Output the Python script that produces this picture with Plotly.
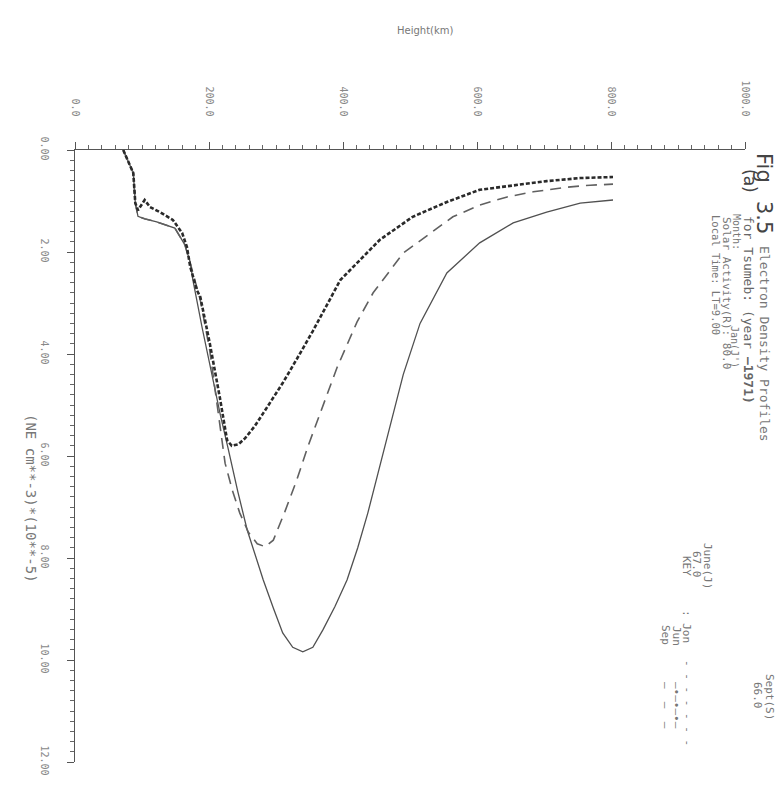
import plotly.graph_objects as go

# ---------------- data ----------------
jun_height = [72, 87, 90, 94, 104, 112, 127, 146, 160, 167, 172, 182, 187, 201, 216, 227, 234,
              244, 254, 268, 281, 310, 331, 355, 396, 455, 504, 555, 604, 654, 704, 754, 803]
jun_density = [0.0, 0.45, 1.04, 1.18, 0.98, 1.12, 1.22, 1.37, 1.63, 1.90, 2.29, 2.75, 2.88, 3.78, 4.84, 5.69, 5.80,
               5.77, 5.65, 5.42, 5.16, 4.57, 4.10, 3.55, 2.55, 1.76, 1.31, 1.02, 0.78, 0.69, 0.61, 0.55, 0.53]

sep_height = [72, 87, 90, 94, 104, 122, 149, 164, 172, 187, 201, 213, 224, 235, 246, 259, 272, 284,
              296, 313, 331, 348, 366, 391, 421, 445, 490, 530, 564, 604, 645, 684, 734, 769, 803]
sep_density = [0.0, 0.45, 1.04, 1.30, 1.35, 1.41, 1.53, 1.86, 2.22, 2.94, 3.92, 5.10, 6.14, 6.68, 7.12, 7.50, 7.72, 7.78,
               7.65, 7.10, 6.47, 5.80, 5.16, 4.27, 3.37, 2.80, 2.02, 1.63, 1.31, 1.08, 0.92, 0.82, 0.73, 0.69, 0.67]

jan_height = [72, 87, 90, 94, 104, 122, 149, 164, 172, 176, 190, 206, 217, 228, 243, 257, 270, 281, 296,
              310, 325, 340, 355, 370, 388, 406, 422, 437, 452, 467, 490, 515, 555, 604, 654, 704, 754, 803]
jan_density = [0.0, 0.45, 1.04, 1.30, 1.35, 1.41, 1.53, 1.86, 2.20, 2.55, 3.50, 4.51, 5.20, 5.82, 6.70, 7.45, 8.00, 8.43, 8.98,
               9.47, 9.75, 9.84, 9.75, 9.41, 8.95, 8.43, 7.80, 7.12, 6.35, 5.60, 4.40, 3.40, 2.41, 1.82, 1.43, 1.22, 1.04, 0.98]

height_ticks = [0, 200, 400, 600, 800, 1000]
height_labels = ["0.0", "200.0", "400.0", "600.0", "800.0", "1000.0"]
density_ticks = [0, 2, 4, 6, 8, 10, 12]
density_labels = ["0.00", "2.00", "4.00", "6.00", "8.00", "10.00", "12.00"]

# ---------------- figure ----------------
# the page body has an 8px margin, so the figure is 8px smaller than the window
OFF = 8
W, H = 784 - OFF, 803 - OFF
PL, PR, PT, PB = 75, 745, 150, 762          # plot area in window pixels
L, T = PL - OFF, PT - OFF
R, B = W - (PR - OFF), H - (PB - OFF)

def pxx(x):
    return (x - PL) / (PR - PL)

def pyy(y):
    return (PB - y) / (PB - PT)

fig = go.Figure()
fig.add_trace(go.Scatter(x=jan_height, y=jan_density, mode="lines", name="Jan",
                         line=dict(color="#505050", width=1.3)))
fig.add_trace(go.Scatter(x=sep_height, y=sep_density, mode="lines", name="Sep",
                         line=dict(color="#606060", width=1.6, dash="11px,7px")))
fig.add_trace(go.Scatter(x=jun_height, y=jun_density, mode="lines", name="Jun",
                         line=dict(color="#2a2a2a", width=2.6, dash="4px,2px")))

fig.update_layout(
    width=W, height=H,
    margin=dict(l=L, r=R, t=T, b=B, autoexpand=False),
    paper_bgcolor="white", plot_bgcolor="white",
    showlegend=False,
    font=dict(family="DejaVu Sans Mono", color="#777777"),
)
fig.update_xaxes(
    side="top", range=[0, 1000], tickvals=height_ticks, ticktext=height_labels,
    tickangle=90, showgrid=False, zeroline=False,
    showline=True, linecolor="#555555", linewidth=1,
    ticks="outside", ticklen=7, tickcolor="#555555",
    minor=dict(dtick=20, ticks="outside", ticklen=4, tickcolor="#666666", showgrid=False),
    tickfont=dict(size=10, color="#888888"),
    ticklabelstandoff=22,
)
fig.update_yaxes(
    range=[12, 0], tickvals=density_ticks, ticktext=density_labels,
    tickangle=90, showgrid=False, zeroline=False,
    showline=True, linecolor="#555555", linewidth=1,
    ticks="outside", ticklen=7, tickcolor="#555555",
    minor=dict(dtick=0.2, ticks="outside", ticklen=4, tickcolor="#666666", showgrid=False),
    tickfont=dict(size=10, color="#888888"),
    ticklabelstandoff=14,
)

def note(text, x, y, size=10, color="#777777", angle=90, family="DejaVu Sans Mono"):
    fig.add_annotation(text=text, x=pxx(x), y=pyy(y), xref="paper", yref="paper",
                       showarrow=False, textangle=angle, xanchor="center", yanchor="middle",
                       font=dict(size=size, color=color, family=family))

note("Height(km)", 425, 30, size=10, angle=0, family="DejaVu Sans")
note("(NE cm**-3)*(10**-5)", 31, 498, size=14)

note("Fig", 764, 168, size=21, color="#444444", family="DejaVu Sans")
note("3.5", 764, 217, size=21, color="#444444", family="DejaVu Sans")
note("Electron Density Profiles", 765, 344, size=13)
note("(a)", 750, 181, size=17, color="#444444", family="DejaVu Sans")
note("for Tsumeb: (year <b>—1971)</b>", 749, 310, size=13, color="#666666")
note("Month:", 737, 232, size=10)
note("Jan(J')", 735, 347, size=10)
note("Solar Activity(R): 80.0", 727, 293, size=11)
note("Local Time: LT=9.00", 716, 275, size=10.5)
note("June(J)", 708, 566, size=11)
note("67.0", 697, 564, size=11)
note("Sept(S)", 770, 697, size=11)
note("66.0", 758, 695, size=11)
note("KEY", 687, 566, size=11)
note(": Jon", 687, 626, size=11)
note("- - - - - - -", 688, 703, size=11)
note("Jun", 677, 636, size=11)
note("—•—•—•—", 677, 705, size=11)
note("Sep", 666, 635, size=11)
note("—  —  —", 666, 705, size=11)

fig.write_html("out.html")
